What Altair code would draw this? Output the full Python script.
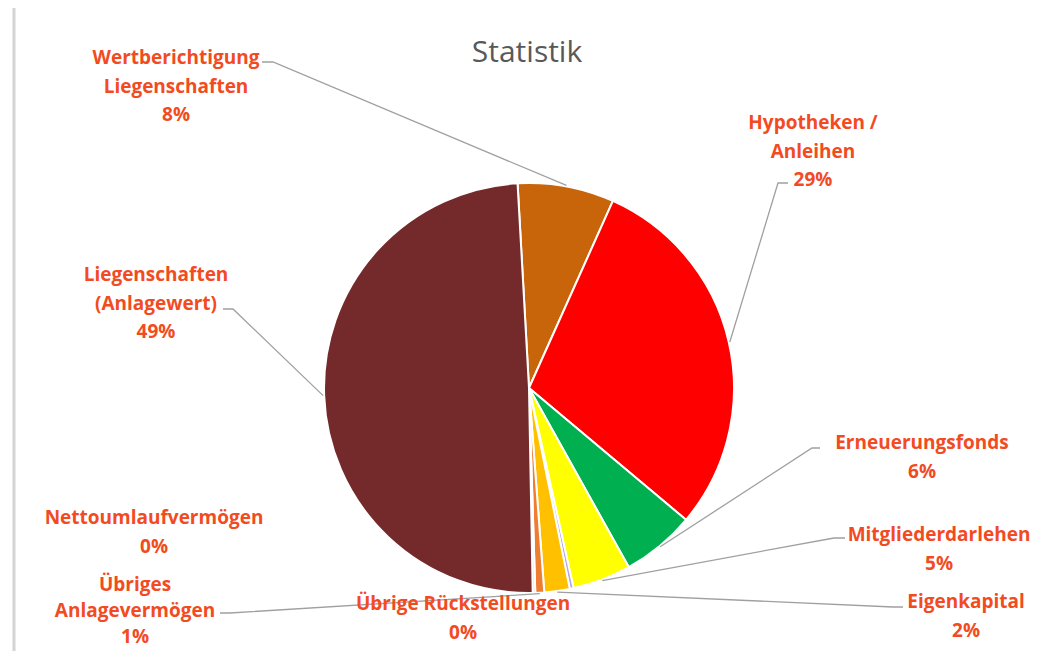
import math
import altair as alt
import pandas as pd

# ---------------- data ----------------
categories = [
    "Wertberichtigung Liegenschaften",
    "Hypotheken / Anleihen",
    "Erneuerungsfonds",
    "Mitgliederdarlehen",
    "Übrige Rückstellungen",
    "Eigenkapital",
    "Übriges Anlagevermögen",
    "Nettoumlaufvermögen",
    "Liegenschaften (Anlagewert)",
]
values = [7.6, 29.4, 5.8, 4.6, 0.3, 2.0, 0.7, 0.2, 49.4]
label_lines = [
    ["Wertberichtigung", "Liegenschaften"],
    ["Hypotheken /", "Anleihen"],
    ["Erneuerungsfonds"],
    ["Mitgliederdarlehen"],
    ["Übrige Rückstellungen"],
    ["Eigenkapital"],
    ["Übriges", "Anlagevermögen"],
    ["Nettoumlaufvermögen"],
    ["Liegenschaften", "(Anlagewert)"],
]
colors = ["#C8650A", "#FF0000", "#00B050", "#FFFF00", "#B4A7E6",
          "#FFC000", "#ED7D31", "#F4B183", "#742A2A"]
title_text = "Statistik"

# ---------------- layout (page pixel coords) ----------------
OFF = 8
W, H = 1031, 643
CX, CY, R = 529, 388, 205
START_DEG = -3.2
# centre of the first text line of each label
label_center = [(176, 58), (813, 123), (922, 443), (939, 535), (463, 604),
                (966, 602), (135, 585), (154, 518), (156, 275)]
tight = [False, False, False, False, False, False, True, False, False]
# (attach x, attach y, knee x) or None
leader_anchor = [(262, 62, 273), (788, 183, 778), (820, 448, 812), (845, 538, 834), None,
                 (903, 607, 893), (220, 613, 230), None, (223, 309, 233)]

total = sum(values)
pcts = [f"{round(v / total * 100)}%" for v in values]

pie_df = pd.DataFrame({
    "cat": categories,
    "value": values,
    "order": list(range(len(categories))),
})

lab_df = pd.DataFrame({
    "cat": categories,
    "text": ["\n".join(l + [p]) for l, p in zip(label_lines, pcts)],
    "x": [c[0] - OFF for c in label_center],
    "y": [c[1] - OFF for c in label_center],
    "tight": tight,
})

# leader lines: from label to slice edge at its mid angle
rows = []
cum = 0.0
for cat, v, anc in zip(categories, values, leader_anchor):
    mid = START_DEG + (cum + v / 2) / total * 360.0
    cum += v
    if anc is None:
        continue
    a = math.radians(mid)
    ex = CX + (R + 1) * math.sin(a)
    ey = CY - (R + 1) * math.cos(a)
    ax, ay, kx = anc
    pts = [(ax, ay), (kx, ay), (ex, ey)]
    for i, (px, py) in enumerate(pts):
        rows.append({"cat": cat, "i": i, "x": px - OFF, "y": py - OFF})
line_df = pd.DataFrame(rows)

xs = alt.Scale(domain=[0, W], range=[0, W], nice=False, zero=False)
ys = alt.Scale(domain=[0, H], range=[0, H], nice=False, zero=False)

start = math.radians(START_DEG)
pie = alt.Chart(pie_df).mark_arc(radius=R, stroke="white", strokeWidth=2).encode(
    theta=alt.Theta("value:Q", stack=True,
                    scale=alt.Scale(range=[start, start + 2 * math.pi])),
    order=alt.Order("order:Q"),
    color=alt.Color("cat:N", scale=alt.Scale(domain=categories, range=colors), legend=None),
    x=alt.value(CX - OFF),
    y=alt.value(CY - OFF),
)

lines = alt.Chart(line_df).mark_line(color="#A0A0A0", strokeWidth=1.3).encode(
    x=alt.X("x:Q", scale=xs, axis=None),
    y=alt.Y("y:Q", scale=ys, axis=None),
    detail="cat:N",
    order="i:Q",
)

def label_layer(is_tight, lh):
    return alt.Chart(lab_df).transform_filter(
        alt.datum.tight == is_tight
    ).mark_text(
        font="Open Sans", fontWeight="bold", fontSize=19, color="#F24B1F",
        lineBreak="\n", lineHeight=lh, align="center", baseline="middle",
    ).encode(
        x=alt.X("x:Q", scale=xs, axis=None),
        y=alt.Y("y:Q", scale=ys, axis=None),
        text="text:N",
    )

labels = label_layer(False, 28.5)
labels_tight = label_layer(True, 26)

title = alt.Chart(pd.DataFrame({"t": [title_text]})).mark_text(
    font="Open Sans", fontSize=30, color="#595959", align="center", baseline="alphabetic",
).encode(
    x=alt.value(527 - OFF),
    y=alt.value(62 - OFF),
    text="t:N",
)

frame = alt.Chart(pd.DataFrame({"a": [0]})).mark_rule(color="#D4D4D4", strokeWidth=3).encode(
    x=alt.value(14 - OFF), y=alt.value(0), y2=alt.value(H),
)

chart = alt.layer(frame, pie, lines, labels, labels_tight, title).properties(
    width=W, height=H, padding=0,
    autosize=alt.AutoSizeParams(type="none"),
    background="white",
).configure_view(stroke=None)

chart.save("out.html", embed_options={"renderer": "svg", "actions": False})
